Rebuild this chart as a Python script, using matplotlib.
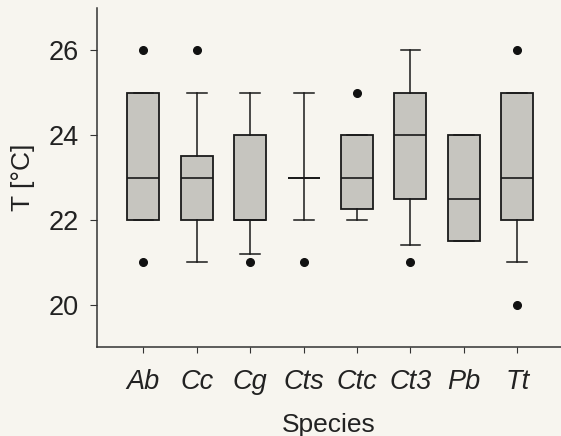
import matplotlib
matplotlib.use("Agg")
import matplotlib.pyplot as plt

plt.rcParams['font.family'] = ['Liberation Sans', 'DejaVu Sans']

species = ['Ab', 'Cc', 'Cg', 'Cts', 'Ctc', 'Ct3', 'Pb', 'Tt']
medians = [23, 23, 22, 23, 23, 24, 22.5, 23]
q1 = [22, 22, 22, 23, 22.25, 22.5, 21.5, 22]
q3 = [25, 23.5, 24, 23, 24, 25, 24, 25]
whislo = [22, 21, 21.2, 22, 22, 21.4, 21.5, 21]
whishi = [25, 25, 25, 25, 24, 26, 24, 25]
outliers = [[26, 21], [26], [21], [21], [25], [21], [], [26, 20]]

stats = []
for i, name in enumerate(species):
    stats.append({'label': name, 'med': medians[i], 'q1': q1[i], 'q3': q3[i],
                  'whislo': whislo[i], 'whishi': whishi[i], 'fliers': outliers[i]})

bg = '#f7f5ef'
fig = plt.figure(figsize=(5.61, 4.36), dpi=100, facecolor=bg)
ax = fig.add_axes([97 / 561, 1 - 347 / 436, 1 - 97 / 561, (347 - 8) / 436])
ax.set_facecolor(bg)

ax.bxp(stats, widths=0.6, capwidths=0.37, patch_artist=True,
       boxprops=dict(facecolor='#c6c5bf', edgecolor='#1a1a1a', linewidth=1.3),
       medianprops=dict(color='#1a1a1a', linewidth=1.2),
       whiskerprops=dict(color='#1a1a1a', linewidth=1.1),
       capprops=dict(color='#1a1a1a', linewidth=1.1),
       flierprops=dict(marker='o', markerfacecolor='#111111', markeredgecolor='#111111',
                       markersize=5.5))

ax.set_xlim(0.13, 8.82)
ax.set_ylim(19, 27)
ax.set_yticks([20, 22, 24, 26])
ax.set_xticklabels(species, fontstyle='italic', fontsize=19.5, color='#222222')
ax.tick_params(axis='y', labelsize=19.5, labelcolor='#222222', length=5, color='#333333', pad=8)
ax.tick_params(axis='x', length=4, color='#333333', pad=12)
for s in ['top', 'right']:
    ax.spines[s].set_visible(False)
for s in ['left', 'bottom']:
    ax.spines[s].set_color('#333333')
    ax.spines[s].set_linewidth(1.1)

ax.set_xlabel('Species', fontsize=19, color='#222222', labelpad=13)
ax.set_ylabel('T [°C]', fontsize=19, color='#222222', labelpad=10)

fig.savefig('out.png', dpi=100, facecolor=bg)
